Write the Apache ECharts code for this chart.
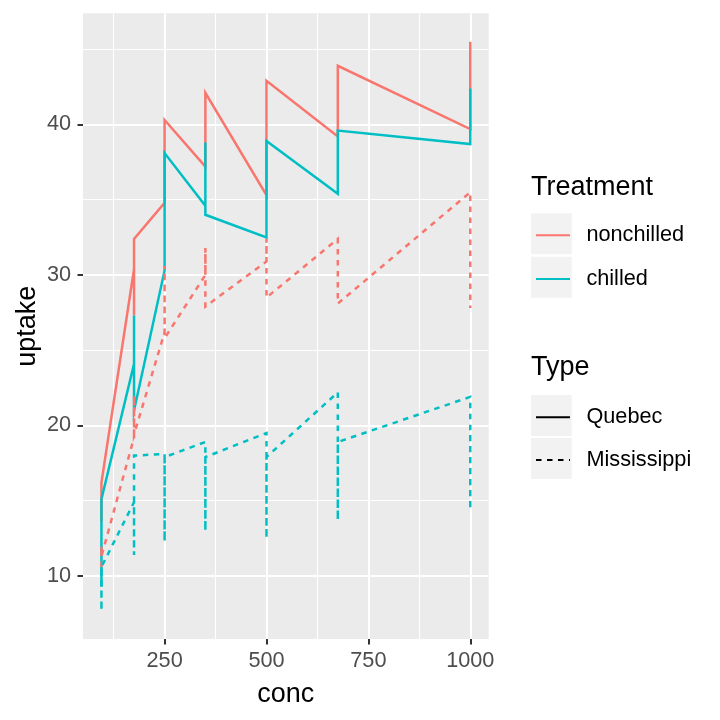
<!DOCTYPE html>
<html>
<head>
<meta charset="utf-8">
<script src="https://cdn.jsdelivr.net/npm/echarts@6/dist/echarts.min.js"></script>
<style>
html,body{margin:0;padding:0;background:#fff;}
#chart{width:720px;height:720px;}
</style>
</head>
<body>
<div id="chart"></div>
<script>
// CO2 uptake data, per plant, at each concentration
const conc = [95, 175, 250, 350, 500, 675, 1000];
const Qn1 = [16.0, 30.4, 34.8, 37.2, 35.3, 39.2, 39.7];
const Qn2 = [13.6, 27.3, 37.1, 41.8, 40.6, 41.4, 44.3];
const Qn3 = [16.2, 32.4, 40.3, 42.1, 42.9, 43.9, 45.5];
const Qc1 = [14.2, 24.1, 30.3, 34.6, 32.5, 35.4, 38.7];
const Qc2 = [9.3, 27.3, 35.0, 38.8, 38.6, 37.5, 42.4];
const Qc3 = [15.1, 21.0, 38.1, 34.0, 38.9, 39.6, 41.4];
const Mn1 = [10.6, 19.2, 26.2, 30.0, 30.9, 32.4, 35.5];
const Mn2 = [12.0, 22.0, 30.6, 31.8, 32.4, 31.1, 31.5];
const Mn3 = [11.3, 19.4, 25.8, 27.9, 28.5, 28.1, 27.8];
const Mc1 = [10.5, 14.9, 18.1, 18.9, 19.5, 22.2, 21.9];
const Mc2 = [7.7, 11.4, 12.3, 13.0, 12.5, 13.7, 14.4];
const Mc3 = [10.6, 18.0, 17.9, 17.9, 17.9, 18.9, 19.9];

const treatments = ['nonchilled', 'chilled'];
const types = ['Quebec', 'Mississippi'];
const xTicks = [250, 500, 750, 1000];
const xMinor = [125, 375, 625, 875];
const yTicks = [10, 20, 30, 40];
const yMinor = [15, 25, 35, 45];

const RED = '#F8766D', TEAL = '#00BFC4';
const DASH = [5.5, 5.5];

// lines connect points ordered by conc (stable within plants)
function groupData(plants) {
  const out = [];
  conc.forEach((c, i) => plants.forEach(p => out.push([c, p[i]])));
  return out;
}

const groups = [
  {name: 'Quebec nonchilled', plants: [Qn1, Qn2, Qn3], color: RED, type: 'solid'},
  {name: 'Quebec chilled', plants: [Qc1, Qc2, Qc3], color: TEAL, type: 'solid'},
  {name: 'Mississippi nonchilled', plants: [Mn1, Mn2, Mn3], color: RED, type: DASH},
  {name: 'Mississippi chilled', plants: [Mc1, Mc2, Mc3], color: TEAL, type: DASH}
];

const FONT = '"Liberation Sans", Arial, Helvetica, sans-serif';
const LW = 2.5;

const gridLines = [];
xTicks.forEach(v => gridLines.push({xAxis: v, lineStyle: {width: 2.1}}));
xMinor.forEach(v => gridLines.push({xAxis: v, lineStyle: {width: 1.1}}));
yTicks.forEach(v => gridLines.push({yAxis: v, lineStyle: {width: 2.1}}));
yMinor.forEach(v => gridLines.push({yAxis: v, lineStyle: {width: 1.1}}));

const series = [{
  type: 'line', data: [], silent: true,
  markLine: {
    silent: true, z: 1, symbol: ['none', 'none'], animation: false,
    label: {show: false},
    lineStyle: {color: '#FFFFFF', type: 'solid'},
    emphasis: {disabled: true},
    data: gridLines
  }
}];
groups.forEach(g => series.push({
  name: g.name, type: 'line', data: groupData(g.plants),
  symbol: 'none', z: 2, silent: true,
  lineStyle: {color: g.color, width: LW, type: g.type, cap: 'butt', join: 'miter'},
  itemStyle: {color: g.color}
}));
// legend keys
const legendStyle = {
  nonchilled: {color: RED, type: 'solid'},
  chilled: {color: TEAL, type: 'solid'},
  Quebec: {color: '#000000', type: 'solid'},
  Mississippi: {color: '#000000', type: DASH}
};
treatments.concat(types).forEach(n => series.push({
  name: n, type: 'line', data: [], symbol: 'none',
  lineStyle: {color: legendStyle[n].color, width: LW, type: legendStyle[n].type},
  itemStyle: {color: legendStyle[n].color}
}));

const legendCommon = {
  orient: 'vertical', left: 535, padding: 0, itemWidth: 34, itemHeight: 14,
  selectedMode: false,
  itemStyle: {opacity: 0},
  textStyle: {fontFamily: FONT, fontSize: 21.7, color: '#000', padding: [0, 0, 0, 11.4]}
};

const option = {
  animation: false,
  backgroundColor: '#FFFFFF',
  textStyle: {fontFamily: FONT},
  grid: {left: 83, right: 231.3, top: 13.3, bottom: 81, show: true,
         backgroundColor: '#EBEBEB', borderWidth: 0},
  xAxis: {
    type: 'value', min: 49.75, max: 1045.25,
    name: 'conc', nameLocation: 'middle', nameGap: 42, nameMoveOverlap: false,
    nameTextStyle: {fontSize: 27, color: '#000', fontFamily: FONT, verticalAlign: 'top'},
    axisLine: {show: false},
    axisTick: {show: true, length: 5.5, lineStyle: {color: '#333333', width: 2}, customValues: xTicks},
    axisLabel: {customValues: xTicks, margin: 11, fontSize: 21.7, color: '#4D4D4D', fontFamily: FONT,
                formatter: v => String(v)},
    splitLine: {show: false}
  },
  yAxis: {
    type: 'value', min: 5.81, max: 47.39,
    name: 'uptake', nameLocation: 'middle', nameGap: 42, nameRotate: 90, nameMoveOverlap: false,
    nameTextStyle: {fontSize: 27, color: '#000', fontFamily: FONT},
    axisLine: {show: false},
    axisTick: {show: true, length: 5.5, lineStyle: {color: '#333333', width: 2}, customValues: yTicks},
    axisLabel: {customValues: yTicks, margin: 12, fontSize: 21.7, color: '#4D4D4D', fontFamily: FONT,
                formatter: v => String(v)},
    splitLine: {show: false}
  },
  legend: [
    Object.assign({}, legendCommon, {data: treatments, top: 224.3, itemGap: 21.7}),
    Object.assign({}, legendCommon, {data: types, top: 406.2, itemGap: 20.8})
  ],
  graphic: [
    {type: 'rect', shape: {x: 531, y: 213.3, width: 40.7, height: 41}, style: {fill: '#F2F2F2'}, z: -1, silent: true},
    {type: 'rect', shape: {x: 531, y: 256.7, width: 40.7, height: 41}, style: {fill: '#F2F2F2'}, z: -1, silent: true},
    {type: 'rect', shape: {x: 531, y: 395, width: 40.7, height: 41}, style: {fill: '#F2F2F2'}, z: -1, silent: true},
    {type: 'rect', shape: {x: 531, y: 438, width: 40.7, height: 41}, style: {fill: '#F2F2F2'}, z: -1, silent: true},
    {type: 'text', x: 531, y: 187.5, style: {text: 'Treatment', font: '27px ' + FONT, fill: '#000', verticalAlign: 'middle'}, silent: true},
    {type: 'text', x: 531, y: 367.5, style: {text: 'Type', font: '27px ' + FONT, fill: '#000', verticalAlign: 'middle'}, silent: true}
  ],
  series: series
};

const chart = echarts.init(document.getElementById('chart'), null, {renderer: 'canvas'});
chart.setOption(option);
</script>
</body>
</html>
